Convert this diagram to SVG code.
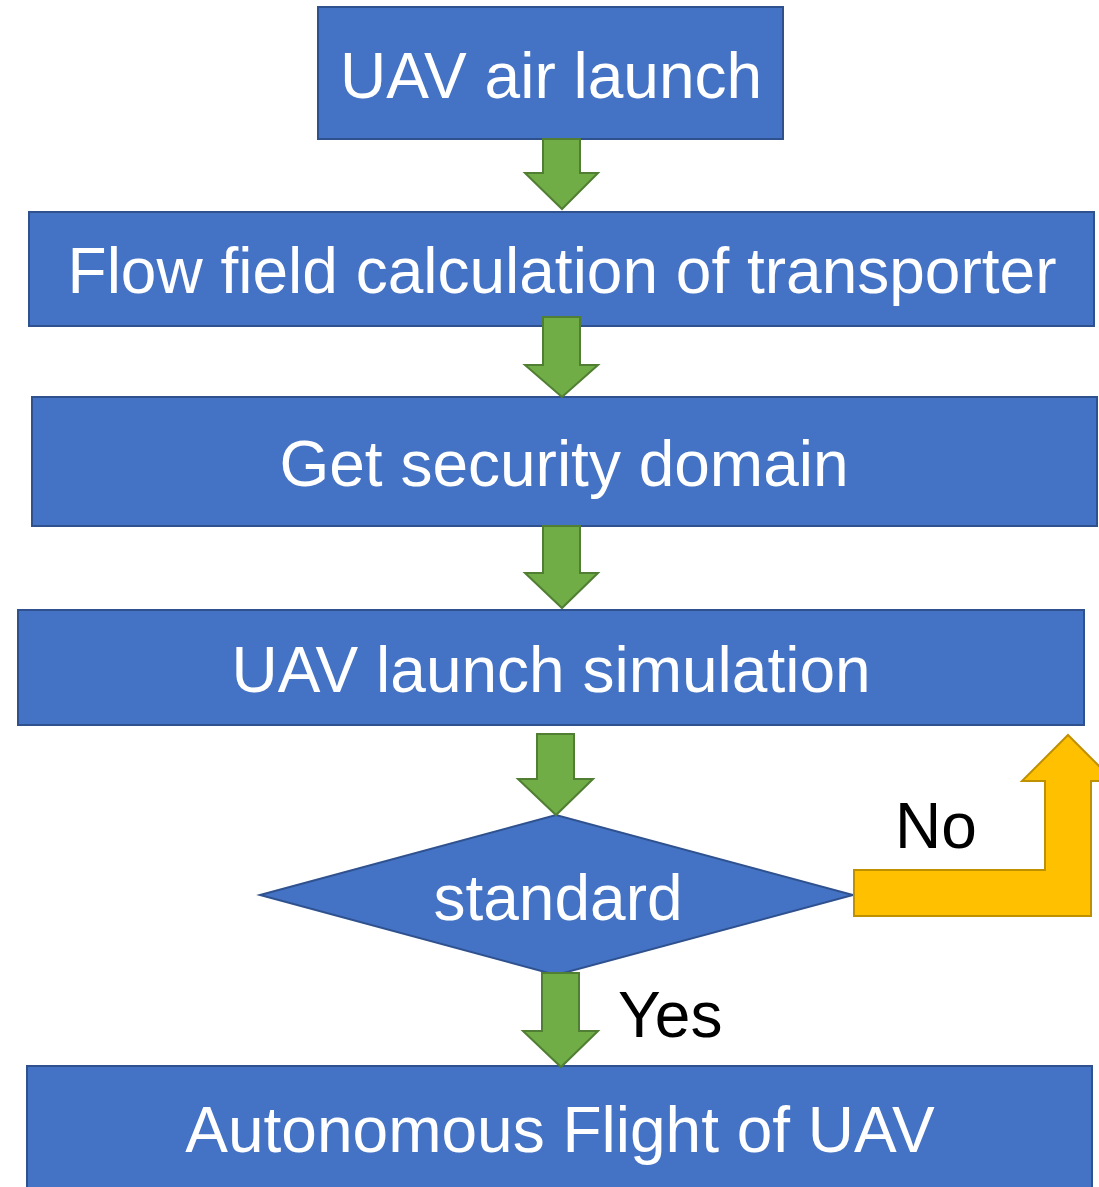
<svg xmlns="http://www.w3.org/2000/svg" width="1099" height="1187" viewBox="0 0 1099 1187">
  <style>
    .box { fill: #4472C4; stroke: #2F528F; stroke-width: 2; }
    .label { font-family: "Liberation Sans", Arial, sans-serif; font-size: 64px; fill: #FFFFFF; text-anchor: middle; }
    .tag { font-family: "Liberation Sans", Arial, sans-serif; font-size: 64px; fill: #000000; }
    .down { fill: #70AD47; stroke: #507E32; stroke-width: 2; }
    .loop { fill: #FFC000; stroke: #BF9000; stroke-width: 2; }
  </style>

  <g id="node-air-launch">
    <rect class="box" x="318" y="7" width="465" height="132"/>
    <text class="label" x="551" y="98">UAV air launch</text>
  </g>

  <g id="node-flow-field">
    <rect class="box" x="29" y="212" width="1065" height="114"/>
    <text class="label" x="562" y="293">Flow field calculation of transporter</text>
  </g>

  <g id="node-security">
    <rect class="box" x="32" y="397" width="1065" height="129"/>
    <text class="label" x="564" y="486">Get security domain</text>
  </g>

  <g id="node-simulation">
    <rect class="box" x="18" y="610" width="1066" height="115"/>
    <text class="label" x="551" y="692">UAV launch simulation</text>
  </g>

  <g id="node-standard">
    <polygon class="box" points="260,895 556,815 853,895 556,975"/>
    <text class="label" x="558" y="920">standard</text>
  </g>

  <g id="node-autonomous">
    <rect class="box" x="27" y="1066" width="1065" height="130"/>
    <text class="label" x="560" y="1152">Autonomous Flight of UAV</text>
  </g>

  <g id="connectors">
    <!-- block arrows between steps -->
    <polygon class="down" points="543,139 580,139 580,173 598,173 562,209 525,173 543,173"/>
    <polygon class="down" points="543,317 580,317 580,365 598,365 562,397 525,365 543,365"/>
    <polygon class="down" points="543,526 580,526 580,573 598,573 562,608 525,573 543,573"/>
    <polygon class="down" points="537,734 574,734 574,779 593,779 556,815 518,779 537,779"/>
    <polygon class="down" points="542,973 579,973 579,1031 598,1031 561,1067 523,1031 542,1031"/>
    <!-- bent return arrow for the "No" branch -->
    <polygon class="loop" points="854,870 1045,870 1045,781 1022,781 1068,735 1114,781 1091,781 1091,916 854,916"/>
    <text class="tag" x="895" y="848">No</text>
    <text class="tag" x="618" y="1037">Yes</text>
  </g>
</svg>
